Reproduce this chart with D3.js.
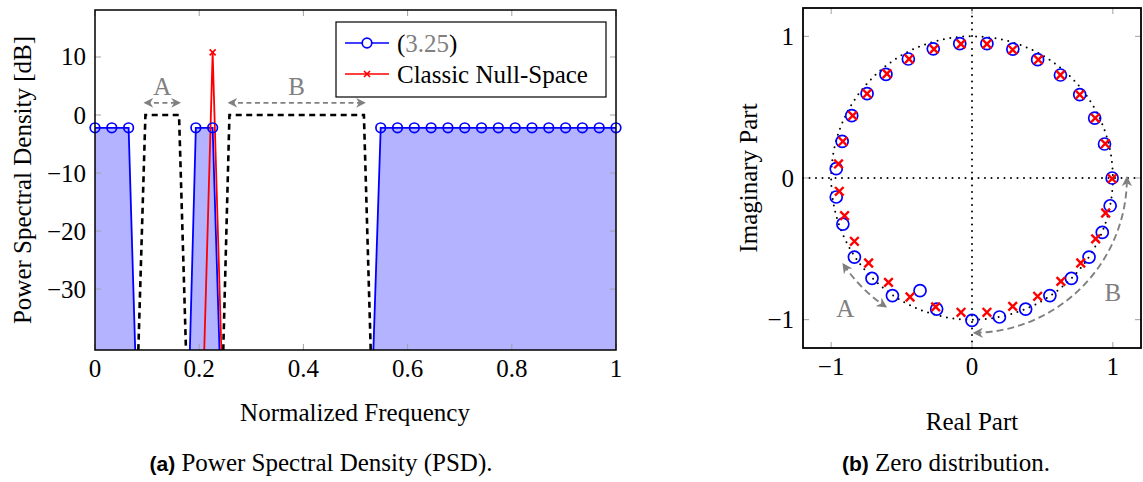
<!DOCTYPE html>
<html>
<head>
<meta charset="utf-8">
<script src="https://cdn.jsdelivr.net/npm/d3@7"></script>
<style>
    html, body { margin: 0; padding: 0; background: #fff; }
    svg text { font-family: "Liberation Serif", "DejaVu Serif", serif; }
</style>
</head>
<body>
<div id="chart"></div>
<script>
// Frequency grid: 32 bins on [0, 1]
const BIN_COUNT = 32;
const frequency = d3.range(BIN_COUNT).map((k) => k / (BIN_COUNT - 1));

// PSD of the proposed design, eq. (3.25) [dB]
const psdProposed = [
    -2.2, -2.2, -2.2, -100, -100, -110, -2.2, -2.2,
    -96, -100, -100, -100, -100, -100, -100, -100,
    -90, -2.2, -2.2, -2.2, -2.2, -2.2, -2.2, -2.2,
    -2.2, -2.2, -2.2, -2.2, -2.2, -2.2, -2.2, -2.2
];

// PSD of the classic null-space design [dB]
const psdClassic = [
    -95, -95, -95, -95, -95, -95, -92, 10.8,
    -88, -95, -95, -95, -95, -95, -95, -95,
    -95, -95, -95, -95, -95, -95, -95, -95,
    -95, -95, -95, -95, -95, -95, -95, -95
];

// Spectral mask (dashed black) [dB]
const psdMask = [
    -100, -100, -96, 0, 0, 0, -98, -110,
    0, 0, 0, 0, 0, 0, 0, 0,
    0, -100, -100, -100, -100, -100, -100, -100,
    -100, -100, -100, -100, -100, -100, -100, -100
];

// Notch bands annotated above the mask: [label, from, to]
const bandLabels = ["A", "B"];
const bandFrom   = [3 / 31, 8 / 31];
const bandTo     = [5 / 31, 16 / 31];

// Zeros of the proposed design (real, imaginary)
const zerosProposedRe = [
    -0.087, 0.106, 0.29, 0.466, 0.628, 0.765, 0.871, 0.941, 0.995,
    -0.275, -0.452, -0.611, -0.745, -0.854, -0.922, -0.964,
    -0.964, -0.917, -0.835, -0.71, -0.565, -0.369, -0.251, 0.0,
    0.195, 0.381, 0.553, 0.706, 0.831, 0.925, 0.981
];
const zerosProposedIm = [
    0.948, 0.948, 0.91, 0.835, 0.727, 0.588, 0.423, 0.24, 0.0,
    0.912, 0.84, 0.731, 0.595, 0.44, 0.258, 0.066,
    -0.134, -0.325, -0.558, -0.708, -0.83, -0.795, -0.925, -1.005,
    -0.981, -0.925, -0.83, -0.708, -0.558, -0.384, -0.196
];

// Zeros of the classic null-space design (real, imaginary)
const zerosClassicRe = [
    -0.078, 0.106, 0.289, 0.471, 0.628, 0.765, 0.875, 0.946, 0.995,
    -0.27, -0.447, -0.604, -0.745, -0.847, -0.917, -0.948,
    -0.942, -0.905, -0.835, -0.734, -0.593, -0.44, -0.258, -0.078,
    0.106, 0.289, 0.466, 0.631, 0.772, 0.878, 0.949
];
const zerosClassicIm = [
    0.946, 0.946, 0.905, 0.835, 0.727, 0.588, 0.423, 0.242, -0.005,
    0.91, 0.84, 0.736, 0.595, 0.44, 0.258, 0.099,
    -0.094, -0.266, -0.447, -0.6, -0.737, -0.84, -0.91, -0.948,
    -0.948, -0.906, -0.835, -0.73, -0.6, -0.43, -0.247
];

// Arcs annotating the bands in the z-plane: [label, angle from, angle to] (degrees)
const arcLabels = ["A", "B"];
const arcFrom   = [214, 271];
const arcTo     = [236, 360];

const xTicksPsd = [0, 0.2, 0.4, 0.6, 0.8, 1];
const yTicksPsd = [10, 0, -10, -20, -30];
const ticksZeros = [-1, 0, 1];

const WIDTH  = 1143;
const HEIGHT = 482;
const FONT_SIZE = 25;
const GRAY = "#808080";
const TICK_GRAY = "#a0a0a0";
const MINUS = "\u2212";

const svg = d3.select("#chart")
    .append("svg")
    .attr("width", WIDTH)
    .attr("height", HEIGHT);

// Arrow heads for the gray annotations
const defs = svg.append("defs");
defs.append("marker")
    .attr("id", "arrow")
    .attr("viewBox", "0 0 10 10")
    .attr("refX", 8)
    .attr("refY", 5)
    .attr("markerWidth", 5.4)
    .attr("markerHeight", 5.4)
    .attr("markerUnits", "strokeWidth")
    .attr("orient", "auto-start-reverse")
    .append("path")
    .attr("d", "M0,0 L10,5 L0,10 L3,5 Z")
    .attr("fill", GRAY);

const fmt = (v) => (v < 0 ? MINUS + Math.abs(v) : String(v));

/**
 * Draws tick marks on all four sides and the labels on the left/bottom side.
 */
function drawFrame(g, x, y, xTicks, yTicks, frameWidth)
{
    const [x0, x1] = x.range();
    const [y0, y1] = y.range();
    const len = 6;

    // Ticks inside the frame (pgfplots style)
    xTicks.forEach((t) => {
        g.append("line").attr("x1", x(t)).attr("x2", x(t)).attr("y1", y0).attr("y2", y0 - len)
            .attr("stroke", TICK_GRAY).attr("stroke-width", 1);
        g.append("line").attr("x1", x(t)).attr("x2", x(t)).attr("y1", y1).attr("y2", y1 + len)
            .attr("stroke", TICK_GRAY).attr("stroke-width", 1);
        g.append("text")
            .attr("x", x(t))
            .attr("y", y0 + 27)
            .attr("text-anchor", "middle")
            .attr("font-size", FONT_SIZE)
            .text(fmt(t));
    });

    yTicks.forEach((t) => {
        g.append("line").attr("x1", x0).attr("x2", x0 + len).attr("y1", y(t)).attr("y2", y(t))
            .attr("stroke", TICK_GRAY).attr("stroke-width", 1);
        g.append("line").attr("x1", x1).attr("x2", x1 - len).attr("y1", y(t)).attr("y2", y(t))
            .attr("stroke", TICK_GRAY).attr("stroke-width", 1);
        g.append("text")
            .attr("x", x0 - 9)
            .attr("y", y(t))
            .attr("dy", "0.34em")
            .attr("text-anchor", "end")
            .attr("font-size", FONT_SIZE)
            .text(fmt(t));
    });

    g.append("rect")
        .attr("x", x0)
        .attr("y", y1)
        .attr("width", x1 - x0)
        .attr("height", y0 - y1)
        .attr("fill", "none")
        .attr("stroke", "#000")
        .attr("stroke-width", frameWidth);
}

// ---------------------------------------------------------------------------
// (a) Power spectral density
// ---------------------------------------------------------------------------
const xPsd = d3.scaleLinear().domain([0, 1]).range([95, 616]);
const yPsd = d3.scaleLinear().domain([-40.5, 18.1]).range([350, 10]);

const psd = svg.append("g").attr("class", "psd");

psd.append("clipPath")
    .attr("id", "clip-psd")
    .append("rect")
    .attr("x", 95)
    .attr("y", 10)
    .attr("width", 616 - 95)
    .attr("height", 340);

const plotPsd = psd.append("g").attr("clip-path", "url(#clip-psd)");

const lineProposed = frequency.map((f, i) => [f, psdProposed[i]]);
const lineClassic  = frequency.map((f, i) => [f, psdClassic[i]]);
const lineMask     = frequency.map((f, i) => [f, psdMask[i]]);

// Filled area below the proposed PSD
plotPsd.append("path")
    .datum(lineProposed)
    .attr("fill", "#b3b3ff")
    .attr("stroke", "none")
    .attr("d", d3.area()
        .x((d) => xPsd(d[0]))
        .y0(yPsd(-40.5))
        .y1((d) => yPsd(d[1])));

// Spectral mask
plotPsd.append("path")
    .datum(lineMask)
    .attr("fill", "none")
    .attr("stroke", "#000")
    .attr("stroke-width", 2.6)
    .attr("stroke-dasharray", "6,4.5")
    .attr("d", d3.line().x((d) => xPsd(d[0])).y((d) => yPsd(d[1])));

const line = d3.line().x((d) => xPsd(d[0])).y((d) => yPsd(d[1]));

plotPsd.append("path")
    .datum(lineProposed)
    .attr("fill", "none")
    .attr("stroke", "#0000ff")
    .attr("stroke-width", 1.8)
    .attr("d", line);

plotPsd.append("path")
    .datum(lineClassic)
    .attr("fill", "none")
    .attr("stroke", "#ff0000")
    .attr("stroke-width", 1.8)
    .attr("d", line);

const inRange = (d) => d[1] >= yPsd.domain()[0] && d[1] <= yPsd.domain()[1];

psd.append("g")
    .selectAll("circle")
    .data(lineProposed.filter(inRange))
    .join("circle")
    .attr("cx", (d) => xPsd(d[0]))
    .attr("cy", (d) => yPsd(d[1]))
    .attr("r", 4.8)
    .attr("fill", "none")
    .attr("stroke", "#0000ff")
    .attr("stroke-width", 1.7);

const cross = (sel, x, y, s, w) => {
    sel.append("path")
        .attr("d", `M${x - s},${y - s}L${x + s},${y + s}M${x - s},${y + s}L${x + s},${y - s}`)
        .attr("stroke", "#ff0000")
        .attr("stroke-width", w)
        .attr("fill", "none");
};

lineClassic.filter(inRange).forEach((d) => cross(psd, xPsd(d[0]), yPsd(d[1]), 3, 1.7));

// Band annotations (A, B)
bandLabels.forEach((label, i) => {
    const yArrow = yPsd(2.1);

    psd.append("line")
        .attr("x1", xPsd(bandFrom[i]))
        .attr("x2", xPsd(bandTo[i]))
        .attr("y1", yArrow)
        .attr("y2", yArrow)
        .attr("stroke", GRAY)
        .attr("stroke-width", 1.8)
        .attr("stroke-dasharray", "5,3.5")
        .attr("marker-start", "url(#arrow)")
        .attr("marker-end", "url(#arrow)");

    psd.append("text")
        .attr("x", xPsd((bandFrom[i] + bandTo[i]) / 2))
        .attr("y", yArrow - 8)
        .attr("text-anchor", "middle")
        .attr("font-size", FONT_SIZE)
        .attr("fill", GRAY)
        .text(label);
});

drawFrame(psd, xPsd, yPsd, xTicksPsd, yTicksPsd, 1.5);

// Legend
const legend = psd.append("g").attr("transform", "translate(336, 22)");

legend.append("rect")
    .attr("width", 270)
    .attr("height", 75)
    .attr("fill", "#fff")
    .attr("stroke", "#000")
    .attr("stroke-width", 1.2);

legend.append("line")
    .attr("x1", 9).attr("x2", 53).attr("y1", 21).attr("y2", 21)
    .attr("stroke", "#0000ff").attr("stroke-width", 1.6);
legend.append("circle")
    .attr("cx", 31).attr("cy", 21).attr("r", 4.8)
    .attr("fill", "#fff").attr("stroke", "#0000ff").attr("stroke-width", 1.7);

const entry1 = legend.append("text")
    .attr("x", 61)
    .attr("y", 21)
    .attr("dy", "0.34em")
    .attr("font-size", FONT_SIZE);
entry1.append("tspan").text("(");
entry1.append("tspan").attr("fill", GRAY).text("3.25");
entry1.append("tspan").text(")");

legend.append("line")
    .attr("x1", 9).attr("x2", 53).attr("y1", 52).attr("y2", 52)
    .attr("stroke", "#ff0000").attr("stroke-width", 1.6);
cross(legend, 31, 52, 3, 1.7);

legend.append("text")
    .attr("x", 61)
    .attr("y", 52)
    .attr("dy", "0.34em")
    .attr("font-size", FONT_SIZE)
    .text("Classic Null-Space");

psd.append("text")
    .attr("transform", "translate(31, 180) rotate(-90)")
    .attr("text-anchor", "middle")
    .attr("font-size", FONT_SIZE)
    .text("Power Spectral Density [dB]");

psd.append("text")
    .attr("x", 355)
    .attr("y", 421)
    .attr("text-anchor", "middle")
    .attr("font-size", FONT_SIZE)
    .text("Normalized Frequency");

// ---------------------------------------------------------------------------
// (b) Zero distribution
// ---------------------------------------------------------------------------
const xZ = d3.scaleLinear().domain([-1.2, 1.2]).range([803, 1141]);
const yZ = d3.scaleLinear().domain([-1.2, 1.2]).range([348, 8]);

const zeros = svg.append("g").attr("class", "zeros");

const dotted = (sel) => sel
    .attr("fill", "none")
    .attr("stroke", "#000")
    .attr("stroke-width", 2)
    .attr("stroke-linecap", "round")
    .attr("stroke-dasharray", "0,6.5");

// Unit circle
zeros.append("ellipse")
    .attr("cx", xZ(0))
    .attr("cy", yZ(0))
    .attr("rx", xZ(1) - xZ(0))
    .attr("ry", yZ(0) - yZ(1))
    .call(dotted);

// Real / imaginary axes
zeros.append("line")
    .attr("x1", xZ(-1.2)).attr("x2", xZ(1.2)).attr("y1", yZ(0)).attr("y2", yZ(0))
    .call(dotted);
zeros.append("line")
    .attr("x1", xZ(0)).attr("x2", xZ(0)).attr("y1", yZ(-1.2)).attr("y2", yZ(1.2))
    .call(dotted);

// Band arcs (A, B)
const rx = xZ(1.1) - xZ(0);
arcLabels.forEach((label, i) => {
    const p = d3.path();
    const a0 = -arcFrom[i] * Math.PI / 180;
    const a1 = -arcTo[i] * Math.PI / 180;
    p.arc(xZ(0), yZ(0), rx, a0, a1, true);

    zeros.append("path")
        .attr("d", p.toString().replace(/^M[^A]*L/, "M"))
        .attr("fill", "none")
        .attr("stroke", GRAY)
        .attr("stroke-width", 1.9)
        .attr("stroke-dasharray", "7,4")
        .attr("marker-start", "url(#arrow)")
        .attr("marker-end", "url(#arrow)");
});

zeros.append("text")
    .attr("x", xZ(-0.9))
    .attr("y", yZ(-0.92))
    .attr("dy", "0.34em")
    .attr("text-anchor", "middle")
    .attr("font-size", FONT_SIZE)
    .attr("fill", GRAY)
    .text(arcLabels[0]);

zeros.append("text")
    .attr("x", xZ(1.0))
    .attr("y", yZ(-0.81))
    .attr("dy", "0.34em")
    .attr("text-anchor", "middle")
    .attr("font-size", FONT_SIZE)
    .attr("fill", GRAY)
    .text(arcLabels[1]);

zeros.append("g")
    .selectAll("circle")
    .data(zerosProposedRe.map((re, i) => [re, zerosProposedIm[i]]))
    .join("circle")
    .attr("cx", (d) => xZ(d[0]))
    .attr("cy", (d) => yZ(d[1]))
    .attr("r", 6)
    .attr("fill", "none")
    .attr("stroke", "#0000ff")
    .attr("stroke-width", 1.7);

zerosClassicRe.forEach((re, i) => cross(zeros, xZ(re), yZ(zerosClassicIm[i]), 4.3, 2.4));

drawFrame(zeros, xZ, yZ, ticksZeros, ticksZeros, 1.8);

zeros.append("text")
    .attr("transform", "translate(757, 178) rotate(-90)")
    .attr("text-anchor", "middle")
    .attr("font-size", FONT_SIZE)
    .text("Imaginary Part");

zeros.append("text")
    .attr("x", 972)
    .attr("y", 430)
    .attr("text-anchor", "middle")
    .attr("font-size", FONT_SIZE)
    .text("Real Part");

// Sub-figure captions
const caption = (x, tag, title) => {
    const t = svg.append("text")
        .attr("x", x)
        .attr("y", 471)
        .attr("text-anchor", "middle")
        .attr("font-size", FONT_SIZE);
    t.append("tspan")
        .attr("font-family", "'Liberation Sans', Arial, sans-serif")
        .attr("font-weight", "bold")
        .attr("font-size", 21)
        .text(tag);
    t.append("tspan").text(" " + title);
};

caption(321, "(a)", "Power Spectral Density (PSD).");
caption(946, "(b)", "Zero distribution.");
</script>
</body>
</html>
